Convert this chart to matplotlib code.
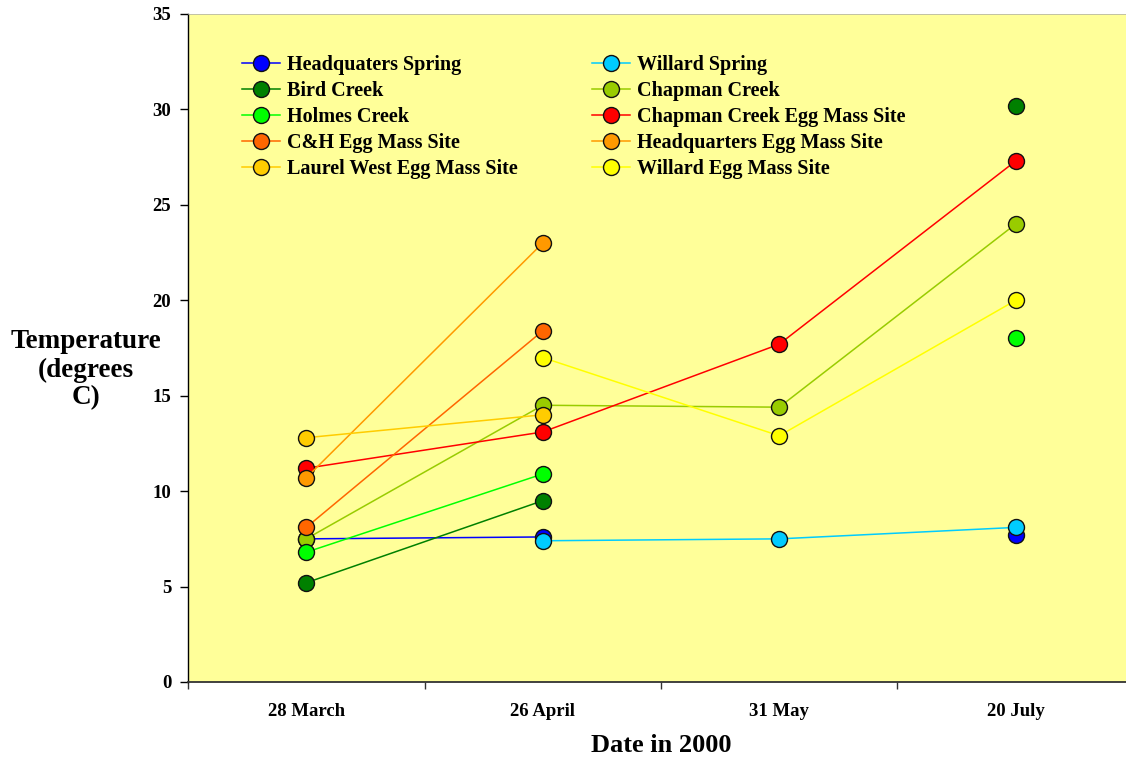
import numpy as np
import matplotlib
matplotlib.use("Agg")
import matplotlib.pyplot as plt

nan = np.nan
dates = ["28 March", "26 April", "31 May", "20 July"]

headquarters_spring = [7.5, 7.6, nan, 7.7]
willard_spring = [nan, 7.4, 7.5, 8.1]
bird_creek = [5.2, 9.5, nan, 30.2]
chapman_creek = [7.5, 14.5, 14.4, 24.0]
holmes_creek = [6.8, 10.9, nan, 18.0]
chapman_egg = [11.2, 13.1, 17.7, 27.3]
ch_egg = [8.1, 18.4, nan, nan]
hq_egg = [10.7, 23.0, nan, nan]
laurel_egg = [12.8, 14.0, nan, nan]
willard_egg = [nan, 17.0, 12.9, 20.0]

series_names = ["Headquaters Spring", "Willard Spring", "Bird Creek", "Chapman Creek",
                "Holmes Creek", "Chapman Creek Egg Mass Site", "C&H Egg Mass Site",
                "Headquarters Egg Mass Site", "Laurel West Egg Mass Site", "Willard Egg Mass Site"]
series_values = [headquarters_spring, willard_spring, bird_creek, chapman_creek,
                 holmes_creek, chapman_egg, ch_egg, hq_egg, laurel_egg, willard_egg]
series_colors = ["#0000FF", "#00CCFF", "#008000", "#99CC00", "#00FF00",
                 "#FF0000", "#FF6600", "#FF9900", "#FFCC00", "#FFFF00"]
ylabel_lines = ["Temperature", "(degrees", "C)"]

plt.rcParams['font.family'] = ['Liberation Serif', 'DejaVu Serif']
plt.rcParams['font.weight'] = 'bold'

W, H = 1126, 761
fig = plt.figure(figsize=(W / 100, H / 100), dpi=100)
ax = fig.add_axes([188 / W, (H - 682) / H, (1134 - 188) / W, (682 - 14) / H])
ax.set_facecolor("#FFFF99")

x = np.arange(len(dates))
handles = []
for name, vals, col in zip(series_names, series_values, series_colors):
    h, = ax.plot(x, vals, color=col, lw=1.1, marker='o', markersize=11.5,
                 markerfacecolor=col, markeredgecolor='#111111', markeredgewidth=1.0,
                 label=name)
    handles.append(h)

ax.set_xlim(-0.5, 3.5)
ax.set_ylim(0, 35)
ax.set_yticks(np.arange(0, 36, 5))
ax.tick_params(axis='y', direction='out', length=6, width=1, labelsize=13.5, pad=6)
ax.set_xticks([-0.5, 0.5, 1.5, 2.5])
ax.set_xticklabels([])
ax.tick_params(axis='x', which='major', direction='out', length=5, width=1, color='#333333')
ax.set_xticks(x, minor=True)
ax.set_xticklabels(dates, minor=True)
ax.tick_params(axis='x', which='minor', length=0, labelsize=13.5, pad=15)
for lab in ax.get_xticklabels(minor=True) + ax.get_yticklabels():
    lab.set_fontweight('bold')

ax.spines['right'].set_visible(False)
ax.spines['top'].set_color('#aaaaaa')
ax.spines['top'].set_linewidth(0.5)
ax.spines['left'].set_color('black')
ax.spines['left'].set_linewidth(1.0)
ax.spines['bottom'].set_color('#333333')
ax.spines['bottom'].set_linewidth(1.3)

fig.text(661 / W, 1 - 746 / H, "Date in 2000", ha='center', va='center',
         fontsize=19, fontweight='bold')
for line, ypix in zip(ylabel_lines, [341, 370, 398]):
    fig.text(86 / W, 1 - ypix / H, line, ha='center', va='center',
             fontsize=19.5, fontweight='bold')

col1 = [0, 2, 4, 6, 8]
col2 = [1, 3, 5, 7, 9]
leg_kw = dict(loc='upper left', frameon=False, borderpad=0, borderaxespad=0,
              handlelength=1.87, handletextpad=0.35, labelspacing=0.3,
              numpoints=1, prop={'size': 14.5, 'weight': 'bold'},
              bbox_transform=fig.transFigure)
leg1 = fig.legend([handles[i] for i in col1], [series_names[i] for i in col1],
                  bbox_to_anchor=(242 / W, 1 - 55 / H), **leg_kw)
leg2 = fig.legend([handles[i] for i in col2], [series_names[i] for i in col2],
                  bbox_to_anchor=(592 / W, 1 - 55 / H), **leg_kw)

fig.savefig("out.png", dpi=100)
